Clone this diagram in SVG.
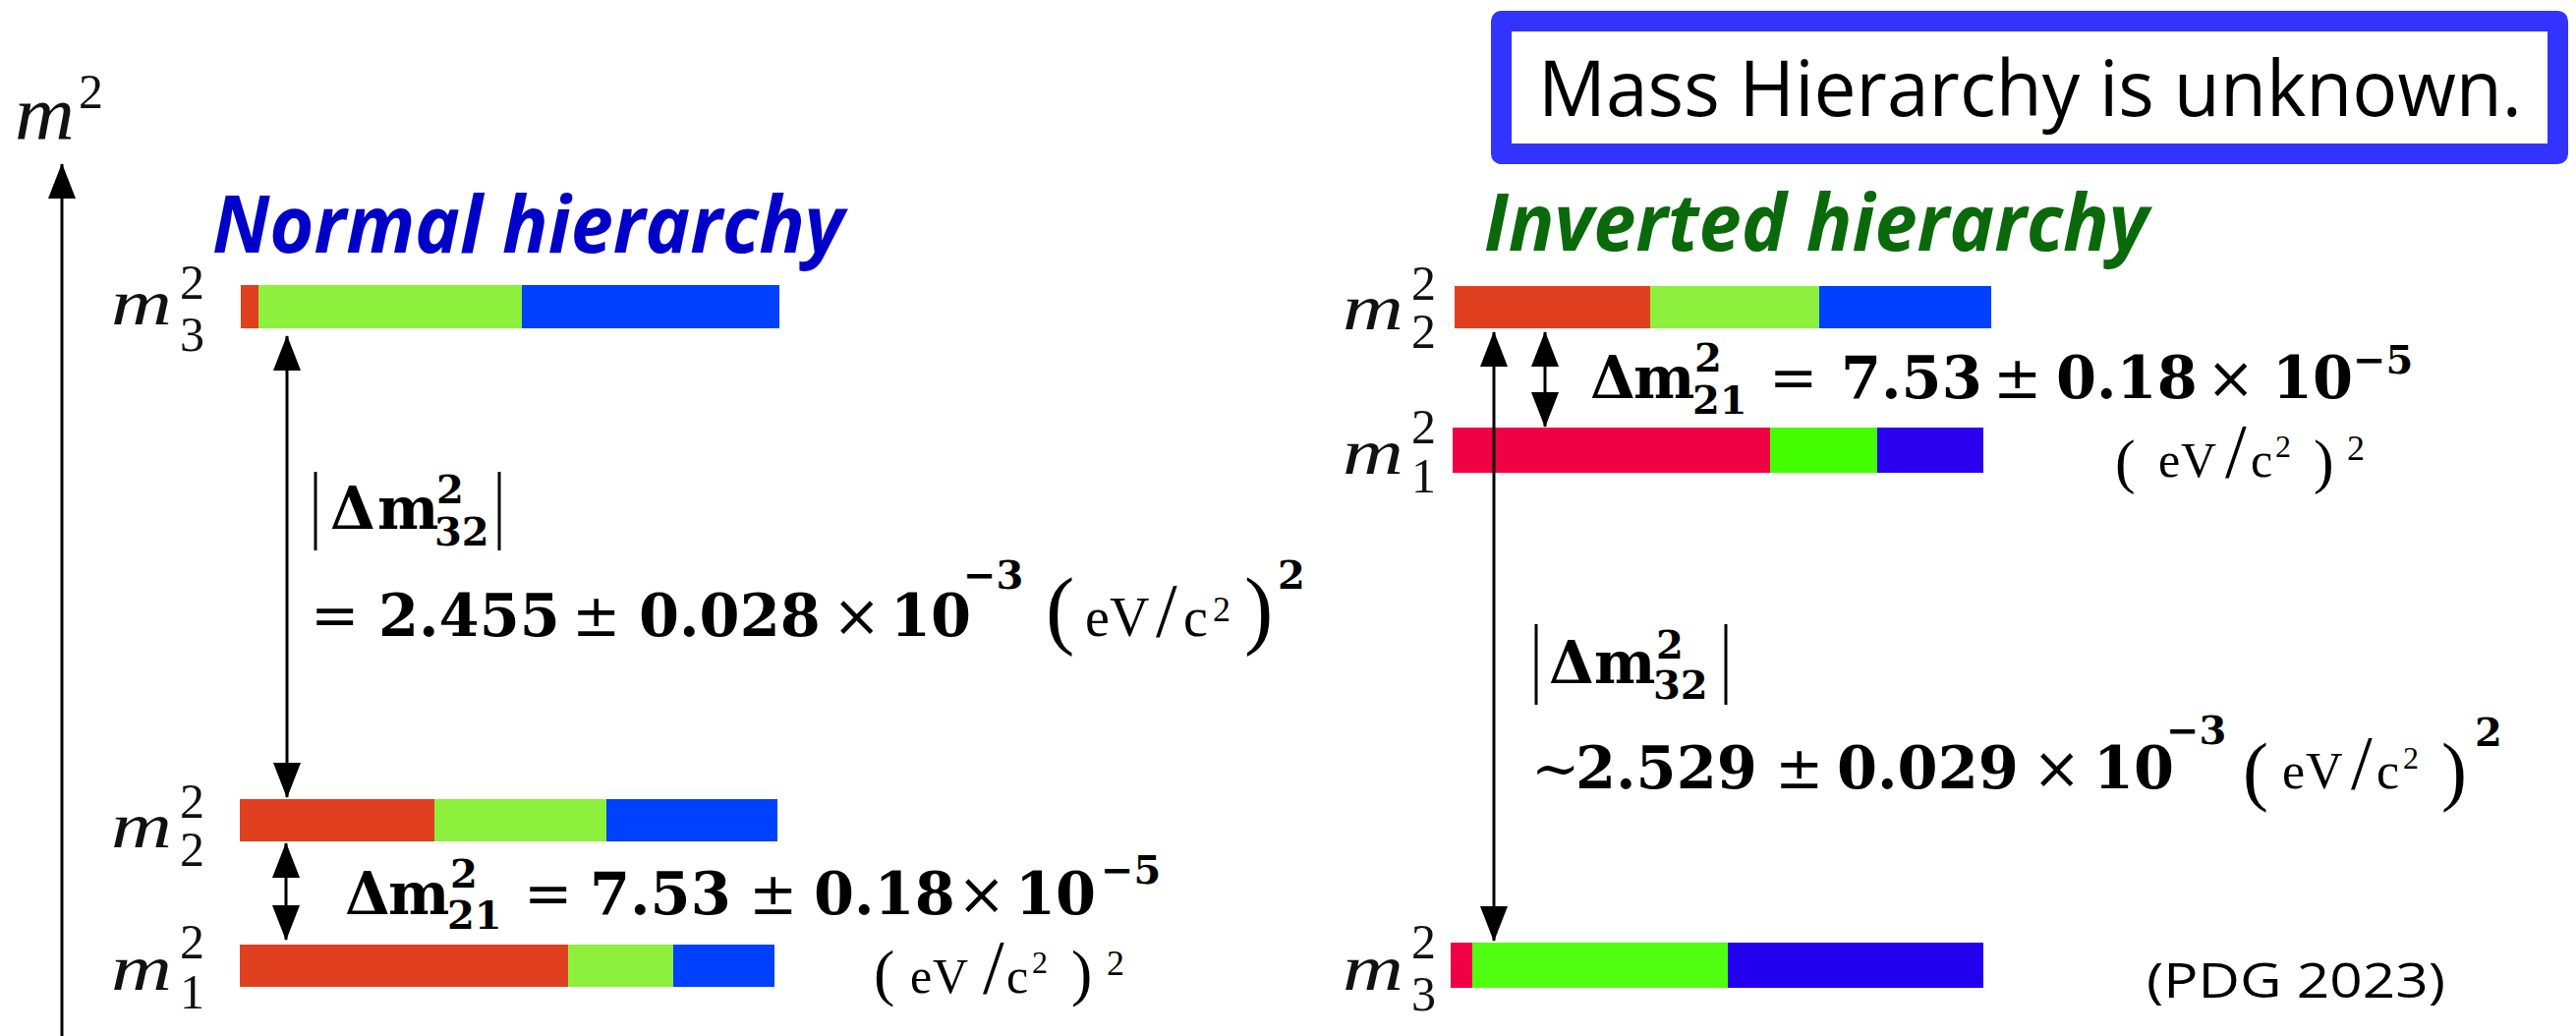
<svg xmlns="http://www.w3.org/2000/svg" width="2621" height="1054" viewBox="0 0 2621 1054">
<defs>
<style>
.mi{font-family:"Liberation Serif",serif;font-style:italic;fill:#111}
.ld{font-family:"Liberation Serif",serif;font-size:50px;fill:#111}
.mb{font-family:"DejaVu Serif",serif;font-weight:bold;font-size:59px;fill:#000}
.mr{font-family:"DejaVu Serif",serif;font-weight:normal}
.s{font-size:40px}
.u{font-family:"Liberation Serif",serif;font-weight:normal;fill:#000}
.sl{font-size:78px}
.bar{stroke:none}
.ln{stroke:#000;stroke-width:3;fill:none}
.head{font-family:"Open Sans","Liberation Sans",sans-serif;font-weight:bold;font-style:italic;font-size:80px}
</style>
<marker id="ah" viewBox="0 0 36 28" markerUnits="userSpaceOnUse" markerWidth="36" markerHeight="28" refX="35" refY="14" orient="auto-start-reverse">
<path d="M0,0 L36,14 L0,28 z" fill="#000"/>
</marker>
</defs>
<rect x="0" y="0" width="2621" height="1054" fill="#fff"/>

<g id="axis-label">
<text class="mi" font-size="78" transform="translate(15,142) scale(1.08,1)">m</text>
<text class="ld" font-size="54" x="80" y="110">2</text>
</g>

<g id="title-normal"><text class="head" x="216" y="257" fill="#0000C8" textLength="643" lengthAdjust="spacingAndGlyphs">Normal hierarchy</text></g>
<g id="title-inverted"><text class="head" x="1510" y="255" fill="#0A690A" textLength="676" lengthAdjust="spacingAndGlyphs">Inverted hierarchy</text></g>

<g id="note-box">
<rect x="1527.5" y="21.5" width="1075" height="135" fill="#fff" stroke="#3333FF" stroke-width="21" stroke-linejoin="round"/>
<text x="1565" y="118" font-family="Open Sans, Liberation Sans, sans-serif" font-size="78" fill="#000" textLength="1001" lengthAdjust="spacingAndGlyphs">Mass Hierarchy is unknown.</text>
</g>

<!-- Normal hierarchy levels -->
<g id="n-m3">
<rect class="bar" x="245" y="290" width="18" height="44" fill="#E0401F"/>
<rect class="bar" x="263" y="290" width="268" height="44" fill="#8DF03C"/>
<rect class="bar" x="531" y="290" width="262" height="44" fill="#0040FF"/>
<text class="mi" font-size="66" transform="translate(113,330) scale(1.3,1)">m</text>
<text class="ld" x="183" y="304">2</text>
<text class="ld" x="183" y="357">3</text>
</g>
<g id="n-m2">
<rect class="bar" x="244" y="813" width="198" height="43" fill="#E0401F"/>
<rect class="bar" x="442" y="813" width="175" height="43" fill="#8DF03C"/>
<rect class="bar" x="617" y="813" width="174" height="43" fill="#0040FF"/>
<text class="mi" font-size="66" transform="translate(113,862) scale(1.3,1)">m</text>
<text class="ld" x="183" y="832">2</text>
<text class="ld" x="183" y="881">2</text>
</g>
<g id="n-m1">
<rect class="bar" x="244" y="961" width="334" height="43" fill="#E0401F"/>
<rect class="bar" x="578" y="961" width="107" height="43" fill="#8DF03C"/>
<rect class="bar" x="685" y="961" width="103" height="43" fill="#0040FF"/>
<text class="mi" font-size="66" transform="translate(113,1007) scale(1.3,1)">m</text>
<text class="ld" x="183" y="975">2</text>
<text class="ld" x="183" y="1026">1</text>
</g>

<!-- Inverted hierarchy levels -->
<g id="i-m2">
<rect class="bar" x="1480" y="291" width="199" height="43" fill="#E0401F"/>
<rect class="bar" x="1679" y="291" width="172" height="43" fill="#8DF03C"/>
<rect class="bar" x="1851" y="291" width="175" height="43" fill="#0040FF"/>
<text class="mi" font-size="66" transform="translate(1366,335) scale(1.3,1)">m</text>
<text class="ld" x="1436" y="305">2</text>
<text class="ld" x="1436" y="354">2</text>
</g>
<g id="i-m1">
<rect class="bar" x="1478" y="435" width="323" height="46" fill="#F00045"/>
<rect class="bar" x="1801" y="435" width="109" height="46" fill="#44FF00"/>
<rect class="bar" x="1910" y="435" width="108" height="46" fill="#2A00EE"/>
<text class="mi" font-size="66" transform="translate(1366,482) scale(1.3,1)">m</text>
<text class="ld" x="1436" y="451">2</text>
<text class="ld" x="1436" y="501">1</text>
</g>
<g id="i-m3">
<rect class="bar" x="1476" y="959" width="22" height="46" fill="#F00045"/>
<rect class="bar" x="1498" y="959" width="260" height="46" fill="#50FF10"/>
<rect class="bar" x="1758" y="959" width="260" height="46" fill="#2200EE"/>
<text class="mi" font-size="66" transform="translate(1366,1007) scale(1.3,1)">m</text>
<text class="ld" x="1436" y="975">2</text>
<text class="ld" x="1436" y="1028">3</text>
</g>

<g id="connectors">
<line class="ln" x1="63" y1="1054" x2="63" y2="167" marker-end="url(#ah)"/>
<line class="ln" x1="292" y1="342" x2="292" y2="811" marker-start="url(#ah)" marker-end="url(#ah)"/>
<line class="ln" x1="291" y1="858" x2="291" y2="956" marker-start="url(#ah)" marker-end="url(#ah)"/>
<line class="ln" x1="1520" y1="957" x2="1520" y2="338" marker-start="url(#ah)" marker-end="url(#ah)"/>
<line class="ln" x1="1572" y1="338" x2="1572" y2="434" marker-start="url(#ah)" marker-end="url(#ah)"/>
</g>

<!-- Normal: |Δm²32| -->
<g id="n-dm32">
<line class="ln" x1="321" y1="480" x2="321" y2="560"/>
<line class="ln" x1="508" y1="480" x2="508" y2="560"/>
<text class="mb" y="538"><tspan x="336">Δ</tspan><tspan x="384">m</tspan><tspan class="s" x="444" y="512">2</tspan><tspan class="s" x="442" y="555">32</tspan></text>
<text class="mb" y="647"><tspan class="mr" x="316">=</tspan><tspan x="385">2.455</tspan><tspan class="mr" x="582">±</tspan><tspan x="650">0.028</tspan><tspan class="mr" x="847">×</tspan><tspan x="906">10</tspan><tspan class="s" x="980" y="599">−3</tspan></text>
<text class="u" font-size="88" x="1064" y="649">(</text>
<text class="u" font-size="56"><tspan x="1104" y="647">e</tspan><tspan x="1129">V</tspan><tspan class="sl" x="1176">/</tspan><tspan x="1204">c</tspan><tspan font-size="36" x="1234" y="632">2</tspan></text>
<text class="u" font-size="88" x="1266" y="649">)</text>
<text class="mb s" x="1300" y="599">2</text>
</g>

<!-- Normal: Δm²21 -->
<g id="n-dm21">
<text class="mb" y="930"><tspan x="351">Δ</tspan><tspan x="395">m</tspan><tspan class="s" x="458" y="903">2</tspan><tspan class="s" x="455" y="945">21</tspan><tspan class="mr" x="533" y="930">=</tspan><tspan x="600">7.53</tspan><tspan class="mr" x="762">±</tspan><tspan x="828">0.18</tspan><tspan class="mr" x="974">×</tspan><tspan x="1033">10</tspan><tspan class="s" x="1120" y="899">−5</tspan></text>
<text class="u" font-size="64" x="889" y="1011">(</text>
<text class="u" font-size="50"><tspan x="926" y="1010">e</tspan><tspan x="949">V</tspan><tspan class="sl" font-size="66" x="1000">/</tspan><tspan x="1024">c</tspan><tspan font-size="32" x="1050" y="990">2</tspan></text>
<text class="u" font-size="64" x="1090" y="1011">)</text>
<text class="u" font-size="36" x="1126" y="992">2</text>
</g>

<!-- Inverted: Δm²21 -->
<g id="i-dm21">
<text class="mb" y="405"><tspan x="1618">Δ</tspan><tspan x="1662">m</tspan><tspan class="s" x="1724" y="378">2</tspan><tspan class="s" x="1722" y="421">21</tspan><tspan class="mr" x="1800" y="405">=</tspan><tspan x="1873">7.53</tspan><tspan class="mr" x="2028">±</tspan><tspan x="2092">0.18</tspan><tspan class="mr" x="2245">×</tspan><tspan x="2312">10</tspan><tspan class="s" x="2394" y="380">−5</tspan></text>
<text class="u" font-size="62" x="2152" y="490">(</text>
<text class="u" font-size="50"><tspan x="2196" y="485">e</tspan><tspan x="2219">V</tspan><tspan class="sl" font-size="66" x="2264">/</tspan><tspan x="2290">c</tspan><tspan font-size="32" x="2315" y="465">2</tspan></text>
<text class="u" font-size="62" x="2354" y="490">)</text>
<text class="u" font-size="36" x="2388" y="468">2</text>
</g>

<!-- Inverted: |Δm²32| -->
<g id="i-dm32">
<line class="ln" x1="1563" y1="635" x2="1563" y2="717"/>
<line class="ln" x1="1756" y1="635" x2="1756" y2="717"/>
<text class="mb" y="695"><tspan x="1576">Δ</tspan><tspan x="1622">m</tspan><tspan class="s" x="1685" y="670">2</tspan><tspan class="s" x="1682" y="711">32</tspan></text>
<text class="mb" y="802"><tspan class="mr" x="1558">~</tspan><tspan x="1603">2.529</tspan><tspan class="mr" x="1806">±</tspan><tspan x="1869">0.029</tspan><tspan class="mr" x="2068">×</tspan><tspan x="2130">10</tspan><tspan class="s" x="2204" y="757">−3</tspan></text>
<text class="u" font-size="78" x="2282" y="810">(</text>
<text class="u" font-size="52"><tspan x="2322" y="802">e</tspan><tspan x="2346">V</tspan><tspan class="sl" font-size="70" x="2392">/</tspan><tspan x="2418">c</tspan><tspan font-size="32" x="2445" y="782">2</tspan></text>
<text class="u" font-size="78" x="2484" y="810">)</text>
<text class="mb s" x="2518" y="759">2</text>
</g>

<g id="source"><text x="2184" y="1015" font-family="Open Sans, Liberation Sans, sans-serif" font-size="50" fill="#000" textLength="304" lengthAdjust="spacingAndGlyphs">(PDG 2023)</text></g>
</svg>
